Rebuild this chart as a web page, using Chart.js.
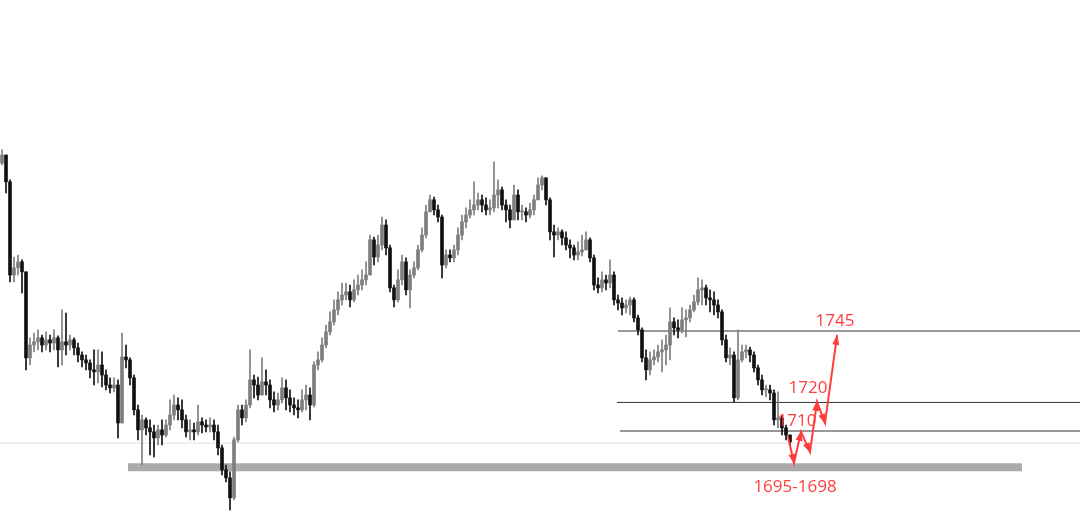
<!DOCTYPE html>
<html>
<head>
<meta charset="utf-8">
<script src="https://cdn.jsdelivr.net/npm/chart.js@4.4.0/dist/chart.umd.min.js"></script>
<style>html,body{margin:0;padding:0;background:#fff;overflow:hidden}</style>
</head>
<body>
<canvas id="chart" width="1080" height="522"></canvas>
<script>
// candle data (open of each bar = previous close)
const firstOpen = 1803.8;
const closes = [1806.6,1797.2,1764.6,1767.1,1769.2,1765.7,1735.6,1740.1,1741.2,1742.6,1740.1,1741.9,1740.8,1742.6,1738.4,1741.2,1740.1,1741.9,1739.1,1736.6,
  1734.9,1733.8,1731.4,1730.7,1733.1,1729.6,1726.1,1725.1,1726.1,1712.8,1735.9,1734.9,1728.6,1717.4,1710.4,1713.9,1711.1,1709.7,1707.6,1710.4,
  1708.6,1712.1,1715.6,1719.1,1717.4,1713.9,1709.7,1710.4,1709.7,1713.2,1712.1,1711.4,1712.1,1709.7,1704.1,1696.4,1693.6,1686.6,1706.9,1717.4,
  1714.6,1719.1,1727.9,1726.1,1722.6,1727.2,1726.1,1720.9,1719.1,1720.9,1725.1,1721.6,1719.1,1718.1,1717.4,1720.9,1722.6,1719.1,1733.1,1734.9,
  1740.1,1744.7,1748.2,1752.4,1755.9,1757.6,1758.7,1755.9,1759.4,1761.1,1762.9,1764.6,1776.9,1770.9,1775.1,1782.1,1774.1,1760.1,1755.9,1762.9,
  1769.2,1759.4,1764.6,1767.1,1773.4,1778.6,1786.7,1790.9,1787.4,1784.9,1768.1,1771.6,1770.6,1773.4,1778.6,1783.2,1785.6,1787.4,1789.1,1790.9,
  1789.1,1787.4,1788.1,1792.6,1794.4,1789.1,1787.4,1783.9,1792.6,1786.7,1786.7,1785.6,1787.4,1790.9,1796.1,1798.6,1790.9,1779.7,1778.6,1779.7,
  1777.6,1775.1,1774.1,1771.6,1772.7,1773.4,1776.9,1770.6,1761.1,1760.1,1762.9,1761.8,1764.6,1755.9,1754.8,1753.1,1754.1,1755.9,1749.6,1745.4,
  1735.6,1731.4,1734.9,1735.9,1737.7,1738.4,1740.1,1748.2,1746.1,1745.4,1748.9,1749.6,1752.4,1755.2,1759.4,1760.1,1756.6,1755.9,1754.1,1751.7,
  1741.9,1735.6,1736.6,1721.6,1734.9,1737.7,1738.4,1736.6,1732.1,1727.9,1724.4,1724.4,1723.3,1713.9,1714.6,1711.1,1708.6,1706.2];
const highs = [1808.4,1802.8,1797.9,1770.9,1771.6,1769.9,1765.7,1742.6,1744.3,1745.4,1743.6,1744.7,1743.6,1745.4,1743.3,1752.4,1751.3,1743.6,1742.6,1740.8,
  1737.7,1736.6,1734.9,1738.4,1738.4,1737.7,1731.4,1728.6,1728.6,1727.9,1744.3,1740.1,1735.6,1729.6,1719.1,1715.6,1714.6,1713.9,1712.1,1712.1,
  1713.9,1713.9,1720.9,1722.6,1721.6,1720.9,1715.6,1713.9,1712.8,1719.1,1714.6,1713.9,1714.6,1713.9,1712.1,1705.1,1698.1,1695.7,1707.9,1719.1,
  1719.1,1720.9,1738.4,1729.6,1728.9,1735.6,1731.4,1727.9,1723.7,1723.3,1728.6,1727.9,1724.4,1721.6,1720.9,1724.4,1726.1,1725.1,1734.2,1737.7,
  1742.6,1747.1,1751.7,1755.9,1758.7,1761.8,1761.8,1761.1,1762.9,1764.6,1766.4,1769.2,1778.6,1777.9,1778.6,1784.9,1783.9,1775.1,1761.1,1766.4,
  1771.6,1770.6,1766.4,1769.2,1775.1,1781.1,1789.1,1792.6,1791.9,1789.1,1785.6,1773.4,1773.4,1775.1,1781.1,1785.6,1788.1,1790.9,1797.2,1793.3,
  1792.6,1791.6,1790.9,1804.2,1797.9,1795.4,1790.9,1789.1,1796.1,1794.4,1789.1,1788.1,1789.8,1792.6,1798.6,1799.3,1798.6,1791.6,1782.1,1781.1,
  1780.4,1779.7,1776.9,1775.1,1776.2,1778.6,1779.7,1777.6,1771.6,1763.6,1765.7,1764.6,1769.9,1765.7,1757.6,1756.6,1755.9,1756.9,1756.6,1750.6,
  1746.1,1738.4,1737.7,1738.4,1740.1,1741.9,1743.6,1753.1,1749.6,1748.9,1753.1,1752.4,1754.1,1757.6,1763.6,1762.9,1761.1,1759.4,1758.7,1755.9,
  1752.4,1743.6,1739.1,1737.7,1745.4,1740.1,1740.1,1739.4,1737.7,1733.1,1729.6,1726.1,1726.1,1724.4,1723.7,1715.6,1712.1,1708.6];
const lows = [1803.1,1793.3,1762.2,1762.2,1764.6,1758.3,1731.4,1733.1,1737.7,1738.4,1737.7,1738.4,1737.7,1738.4,1732.4,1733.1,1736.6,1738.4,1736.6,1734.2,
  1732.4,1731.4,1728.6,1726.1,1726.8,1725.4,1724.4,1723.3,1723.7,1707.6,1712.8,1732.1,1726.1,1715.6,1706.9,1698.1,1708.6,1701.6,1700.9,1705.1,
  1705.1,1707.9,1710.4,1713.9,1713.9,1711.1,1707.9,1706.9,1706.9,1708.6,1709.3,1709.7,1709.7,1706.9,1701.6,1694.6,1692.2,1682.4,1685.9,1706.2,
  1712.1,1713.2,1718.1,1721.6,1720.9,1723.7,1722.6,1718.1,1716.7,1717.4,1719.8,1717.4,1716.7,1715.6,1714.6,1716.7,1717.4,1713.9,1718.4,1731.4,
  1734.2,1739.1,1743.6,1747.1,1750.6,1754.1,1755.9,1753.4,1755.2,1757.6,1759.4,1761.1,1769.2,1768.1,1769.2,1773.4,1771.6,1758.7,1753.4,1755.2,
  1761.1,1757.6,1753.1,1763.6,1766.4,1772.7,1777.6,1786.7,1785.6,1783.2,1763.6,1767.1,1769.2,1769.2,1771.6,1776.9,1781.1,1784.6,1785.6,1787.4,
  1786.7,1785.6,1785.6,1786.7,1788.1,1787.4,1783.2,1781.1,1785.6,1783.9,1783.9,1783.2,1784.6,1785.6,1790.9,1794.4,1789.1,1776.9,1770.9,1776.9,
  1775.1,1773.4,1770.6,1769.9,1769.9,1771.3,1773.4,1769.2,1759.4,1758.3,1758.7,1759.4,1760.1,1754.1,1752.4,1750.6,1751.3,1750.6,1748.2,1743.6,
  1734.2,1727.9,1729.6,1733.1,1734.2,1730.7,1733.1,1734.9,1743.6,1742.6,1744.3,1742.9,1748.2,1751.7,1754.1,1754.1,1754.1,1751.7,1750.6,1749.6,
  1740.1,1734.2,1733.1,1720.2,1720.9,1734.2,1735.6,1734.2,1730.7,1726.1,1722.6,1721.9,1720.9,1712.1,1711.1,1708.6,1706.9,1704.8];

// annotations
const levels = [1745, 1720, 1710];
const levelStart = [154, 153.75, 154.5];
const levelLabels = ['1745', '1720', '1710'];
const levelLabelX = [208.25, 201.5, 198.75];
const levelLabelY = [1748.5, 1725.0, 1713.5];
const zoneLabel = '1695-1698';
const zoneLabelPos = [198.25, 1690.4];
const zoneMid = 1697.3;
const zoneRange = [31.5, 255];
const lastPrice = 1705.8;
const pathX = [196.5, 198, 199.75, 202, 203.75, 205.75, 208.75];
const pathY = [1707.9, 1698.8, 1709.7, 1702.7, 1720.2, 1712.8, 1743.3];

const RED = '#ff3d3d';
const UP = '#7e7e7e', DOWN = '#111';

const opens = closes.map((c, i) => i === 0 ? firstOpen : closes[i - 1]);
const bodies = closes.map((c, i) => ({x: i, y: [opens[i], c]}));
const wicks = closes.map((c, i) => ({
  x: i, y: [Math.min(lows[i], opens[i], c), Math.max(highs[i], opens[i], c)]
}));
const candleColor = ctx => closes[ctx.dataIndex] >= opens[ctx.dataIndex] ? UP : DOWN;

const flat = (v, x0, x1) => [{x: x0, y: v}, {x: x1, y: v}];
const lineDs = (data, color, width) => ({
  type: 'line', data, borderColor: color, borderWidth: width,
  pointRadius: 0, tension: 0, borderCapStyle: 'butt', order: 5
});

const datasets = [
  lineDs(flat(lastPrice, -0.5, 269.5), '#e2e2e2', 1),
  lineDs(flat(zoneMid, zoneRange[0], zoneRange[1]), '#ababab', 8),
  ...levels.map((v, k) => lineDs(flat(v, levelStart[k], 269.5), '#333', 1)),
  {type: 'bar', data: wicks, backgroundColor: candleColor, barThickness: 1, grouped: false, order: 3},
  {type: 'bar', data: bodies, backgroundColor: candleColor, barThickness: 3, minBarLength: 1, grouped: false, order: 2},
  {...lineDs(pathX.map((x, k) => ({x, y: pathY[k]})), RED, 2), order: 0, borderCapStyle: 'round', borderJoinStyle: 'miter'}
];

const annot = {
  id: 'annot',
  afterDatasetsDraw(chart) {
    const {ctx, scales: {x, y}} = chart;
    ctx.save();
    ctx.fillStyle = RED;
    // arrowheads on every leg of the path
    for (let k = 1; k < pathX.length; k++) {
      const x0 = x.getPixelForValue(pathX[k - 1]), y0 = y.getPixelForValue(pathY[k - 1]);
      const x1 = x.getPixelForValue(pathX[k]), y1 = y.getPixelForValue(pathY[k]);
      const a = Math.atan2(y1 - y0, x1 - x0), L = 9, W = 3.5;
      ctx.beginPath();
      ctx.moveTo(x1 + 1.5 * Math.cos(a), y1 + 1.5 * Math.sin(a));
      ctx.lineTo(x1 - L * Math.cos(a) + W * Math.sin(a), y1 - L * Math.sin(a) - W * Math.cos(a));
      ctx.lineTo(x1 - L * Math.cos(a) - W * Math.sin(a), y1 - L * Math.sin(a) + W * Math.cos(a));
      ctx.closePath();
      ctx.fill();
    }
    ctx.font = '17px "Open Sans", "Noto Sans", sans-serif';
    ctx.textAlign = 'center';
    ctx.textBaseline = 'middle';
    levelLabels.forEach((t, k) => {
      ctx.fillText(t, x.getPixelForValue(levelLabelX[k]), y.getPixelForValue(levelLabelY[k]));
    });
    ctx.fillText(zoneLabel, x.getPixelForValue(zoneLabelPos[0]), y.getPixelForValue(zoneLabelPos[1]));
    ctx.restore();
  }
};

new Chart(document.getElementById('chart'), {
  type: 'bar',
  data: {datasets},
  options: {
    responsive: false,
    animation: false,
    layout: {padding: 0},
    scales: {
      x: {type: 'linear', min: -0.5, max: 269.5, offset: false, display: false},
      y: {min: 1678.15, max: 1860.85, display: false}
    },
    plugins: {legend: {display: false}, tooltip: {enabled: false}}
  },
  plugins: [annot]
});
</script>
</body>
</html>
